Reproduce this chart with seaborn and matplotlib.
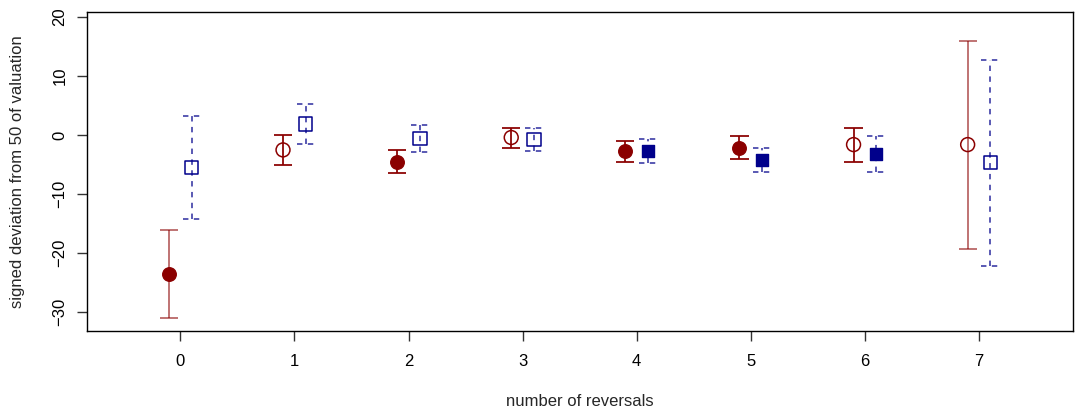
import matplotlib
matplotlib.use("Agg")
import matplotlib.pyplot as plt
import seaborn as sns
import pandas as pd

# number of reversals
reversals = [0, 1, 2, 3, 4, 5, 6, 7]

# red series (circles)
red_mean = [-23.5, -2.5, -4.5, -0.4, -2.7, -2.1, -1.6, -1.6]
red_low = [-30.9, -5.0, -6.4, -2.1, -4.5, -4.1, -4.5, -19.2]
red_high = [-16.0, 0.0, -2.5, 1.2, -1.0, -0.2, 1.2, 16.0]
red_filled = [True, False, True, False, True, True, False, False]

# blue series (squares)
blue_mean = [-5.5, 1.9, -0.6, -0.7, -2.7, -4.2, -3.2, -4.7]
blue_low = [-14.2, -1.5, -2.9, -2.7, -4.7, -6.3, -6.3, -22.1]
blue_high = [3.2, 5.3, 1.7, 1.2, -0.7, -2.1, -0.2, 12.7]
blue_filled = [False, False, False, False, True, True, True, False]

red_df = pd.DataFrame({"x": [r - 0.1 for r in reversals], "y": red_mean,
                       "lo": red_low, "hi": red_high, "filled": red_filled})
blue_df = pd.DataFrame({"x": [r + 0.1 for r in reversals], "y": blue_mean,
                        "lo": blue_low, "hi": blue_high, "filled": blue_filled})

sns.set_theme(style="white")
plt.rcParams["font.family"] = ["Liberation Sans", "DejaVu Sans"]

fig = plt.figure(figsize=(10.75, 4.17), dpi=100)
ax = fig.add_axes([0.0807, 0.207, 0.9171, 0.765])

RED = "#8B0000"
BLUE = "#00008B"
cap = 0.08

# error bars (red solid, blue dashed)
red_alpha = [0.55 if abs(v - u) > 10 else 0.9 for v, u in zip(red_df.hi, red_df.lo)]
for (_, r), a in zip(red_df.iterrows(), red_alpha):
    ax.vlines(r.x, r.lo, r.hi, color=RED, alpha=a, lw=1.4, zorder=2)
    ax.hlines([r.lo, r.hi], r.x - cap, r.x + cap, color=RED, alpha=a, lw=1.4, zorder=2)
for _, r in blue_df.iterrows():
    ax.vlines(r.x, r.lo, r.hi, color=BLUE, alpha=0.7, lw=1.3,
              linestyles=(0, (3, 3)), zorder=2)
    ax.hlines([r.lo, r.hi], r.x - cap, r.x + cap, color=BLUE, alpha=0.7, lw=1.3,
              linestyles=(0, (3, 3)), zorder=2)

# markers
sns.scatterplot(data=red_df[red_df.filled], x="x", y="y", ax=ax, color=RED,
                marker="o", s=95, edgecolor=RED, linewidth=1, zorder=3)
sns.scatterplot(data=red_df[~red_df.filled], x="x", y="y", ax=ax, color=RED,
                marker="o", s=100, facecolors="none", edgecolor=RED,
                linewidth=1.1, zorder=3)
sns.scatterplot(data=blue_df[blue_df.filled], x="x", y="y", ax=ax, color=BLUE,
                marker="s", s=85, edgecolor=BLUE, linewidth=1, zorder=3)
sns.scatterplot(data=blue_df[~blue_df.filled], x="x", y="y", ax=ax, color=BLUE,
                marker="s", s=90, facecolors="none", edgecolor=BLUE,
                linewidth=1.1, zorder=3)

ax.set_xlim(-0.82, 7.82)
ax.set_ylim(-33.1, 20.9)
ax.set_xticks(reversals)
ax.set_yticks([-30, -20, -10, 0, 10, 20])
ax.set_yticklabels(["\u221230", "\u221220", "\u221210", "0", "10", "20"],
                   rotation=90, va="center")
ax.tick_params(axis="both", direction="out", length=7, width=1, color="#333333",
               labelsize=12, labelcolor="black", left=True, bottom=True)
ax.tick_params(axis="y", pad=7)
ax.tick_params(axis="x", pad=10)

for sp in ax.spines.values():
    sp.set_color("black")
    sp.set_linewidth(1)

ax.set_xlabel("number of reversals", fontsize=12, va="center")
ax.set_ylabel("signed deviation from 50 of valuation", fontsize=12, va="center")
ax.xaxis.set_label_coords(0.5, -0.2235)
ax.yaxis.set_label_coords(-0.0707, 0.5)

fig.savefig("out.png", dpi=100)
